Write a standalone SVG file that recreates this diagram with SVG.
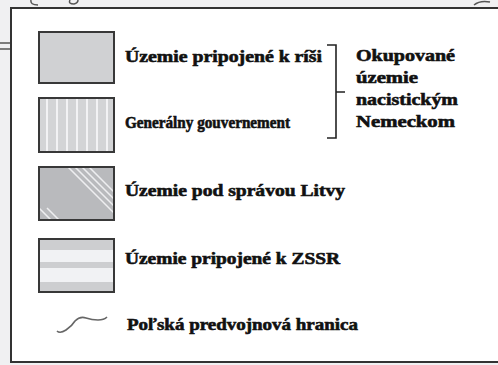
<svg xmlns="http://www.w3.org/2000/svg" width="498" height="365" viewBox="0 0 498 365">
<style>
.t{font-family:"Liberation Serif","DejaVu Serif",serif;font-weight:bold;font-size:17px;fill:#111;stroke:#111;stroke-width:0.6}
.sw{stroke:#383838;stroke-width:2}
.map{fill:none;stroke:#555;stroke-width:1.5}
</style>
<defs>
<clipPath id="c3"><rect x="39" y="168" width="75" height="51"/></clipPath>
</defs>
<rect x="0" y="0" width="498" height="365" fill="#f0f0f2"/>
<g id="mapbits">
<path class="map" d="M0,43 H11 M0,49 H11"/>
<path class="map" d="M31,0 Q30,5 38,5" stroke="#888"/>
<path class="map" d="M70,0 Q68,4 74,4 Q78,3 78,0" stroke="#888"/>
<path class="map" d="M474,5 Q480,0 490,2" stroke="#888"/>
</g>
<rect id="frame" x="11" y="8" width="500" height="354" fill="#fff" stroke="#333" stroke-width="2"/>
<g id="sw1"><rect class="sw" x="39" y="32" width="75" height="51" fill="#d0d1d3"/></g>
<g id="sw2">
<rect x="39" y="98" width="75" height="54" fill="#d3d4d6"/>
<path d="M47,98V152M57,98V152M67,98V152M77,98V152M87,98V152M97,98V152M107,98V152" stroke="#f2f2f4" stroke-width="2"/>
<rect class="sw" x="39" y="98" width="75" height="54" fill="none"/>
</g>
<g id="sw3">
<rect x="39" y="167" width="75" height="53" fill="#b9babd"/>
<g clip-path="url(#c3)" stroke="#eeeef0" stroke-width="1.5">
<path d="M68,167l50,50M75,167l45,45M82,167l40,40M89,167l35,35"/>
<path d="M39,208l14,14M47,208l12,12"/>
</g>
<rect class="sw" x="39" y="167" width="75" height="53" fill="none"/>
</g>
<g id="sw4">
<rect x="39" y="239" width="75" height="53" fill="#cdced0"/>
<rect x="39" y="250" width="75" height="12" fill="#f1f2f4"/>
<rect x="39" y="268" width="75" height="14" fill="#f1f2f4"/>
<rect class="sw" x="39" y="239" width="75" height="53" fill="none"/>
</g>
<g id="border-sym"><path d="M57,331 Q60,334 66,330 Q72,326 75,321 Q80,316 86,318 Q92,320 98,320 Q104,320 107,317" fill="none" stroke="#666" stroke-width="1.6"/></g>
<g id="connectors"><path d="M327,45H336V138H327M336,92H345" fill="none" stroke="#222" stroke-width="1.6"/></g>
<g id="labels">
<text class="t" x="125" y="62" textLength="197" lengthAdjust="spacingAndGlyphs">Územie pripojené k ríši</text>
<text class="t" x="125" y="128" textLength="165" lengthAdjust="spacingAndGlyphs">Generálny gouvernement</text>
<text class="t" x="125" y="196" textLength="220" lengthAdjust="spacingAndGlyphs">Územie pod správou Litvy</text>
<text class="t" x="125" y="264" textLength="215" lengthAdjust="spacingAndGlyphs">Územie pripojené k ZSSR</text>
<text class="t" x="127" y="330" textLength="231" lengthAdjust="spacingAndGlyphs">Poľská predvojnová hranica</text>
<text class="t" x="356" y="61" textLength="99" lengthAdjust="spacingAndGlyphs">Okupované</text>
<text class="t" x="356" y="83" textLength="62" lengthAdjust="spacingAndGlyphs">územie</text>
<text class="t" x="356" y="105" textLength="102" lengthAdjust="spacingAndGlyphs">nacistickým</text>
<text class="t" x="356" y="127" textLength="99" lengthAdjust="spacingAndGlyphs">Nemeckom</text>
</g>
</svg>
